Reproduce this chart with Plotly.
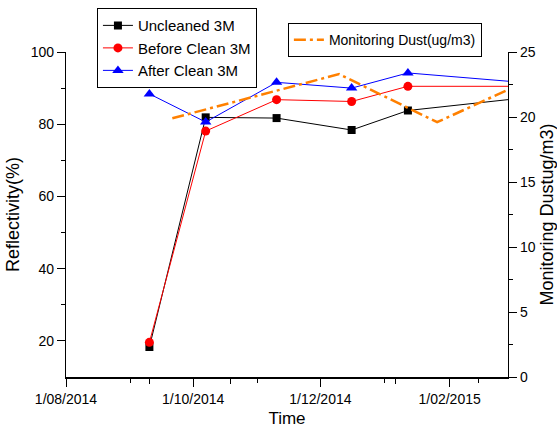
import plotly.graph_objects as go

# ---- data ----
dates_3m = ['2014-09-10', '2014-10-07', '2014-11-10', '2014-12-16', '2015-01-12', '2015-03-20']
uncleaned_3m = [18.3, 81.9, 81.7, 78.4, 83.8, 88.0]
before_clean_3m = [19.6, 78.1, 86.8, 86.3, 90.5, 90.5]
after_clean_3m = [88.4, 80.6, 91.6, 90.0, 94.2, 91.0]

dust_dates = ['2014-09-21', '2014-12-10', '2015-01-26', '2015-03-01']
dust_values = [19.9, 23.3, 19.6, 22.1]

x_tick_vals = ['2014-08-01', '2014-10-01', '2014-12-01', '2015-02-01']
x_tick_text = ['1/08/2014', '1/10/2014', '1/12/2014', '1/02/2015']
x_minor_vals = ['2014-09-01', '2014-11-01', '2015-01-01', '2015-02-15']
x2_tick_vals = ['2014-09-10', '2014-10-19', '2015-01-06']
x_range = ['2014-08-01', '2015-03-01']

y_left_ticks = [20, 40, 60, 80, 100]
y_left_minor = [30, 50, 70, 90]
y_right_ticks = [0, 5, 10, 15, 20, 25]
y_right_minor = [2.5, 7.5, 12.5, 17.5, 22.5]

FONT = 'Liberation Sans, Arial, sans-serif'

fig = go.Figure()
fig.add_trace(go.Scatter(x=dates_3m, y=uncleaned_3m, name='Uncleaned 3M', mode='lines+markers',
                         line=dict(color='#000000', width=1),
                         marker=dict(symbol='square', size=8, color='#000000'), legend='legend'))
fig.add_trace(go.Scatter(x=dates_3m, y=before_clean_3m, name='Before Clean 3M', mode='lines+markers',
                         line=dict(color='#FF0000', width=1),
                         marker=dict(symbol='circle', size=9, color='#FF0000'), legend='legend'))
fig.add_trace(go.Scatter(x=dates_3m, y=after_clean_3m, name='After Clean 3M', mode='lines+markers',
                         line=dict(color='#0000FF', width=1),
                         marker=dict(symbol='triangle-up', size=10, color='#0000FF'), legend='legend'))
fig.add_trace(go.Scatter(x=dust_dates, y=dust_values, name='Monitoring Dust(ug/m3)', mode='lines',
                         line=dict(color='#FF8000', width=2.5, dash='12px,4px,3px,4px'),
                         xaxis='x2', yaxis='y2', legend='legend2'))

axis_common = dict(showgrid=False, zeroline=False, linecolor='black', tickcolor='black', automargin=False,
                   tickfont=dict(family=FONT, size=14, color='black'))

fig.update_layout(
    width=557, height=428,
    margin=dict(l=66, r=49, t=52, b=51, autoexpand=False),
    paper_bgcolor='white', plot_bgcolor='white',
    font=dict(family=FONT, color='black'),
    showlegend=True,
    xaxis=dict(type='date', range=x_range, tickmode='array', tickvals=x_tick_vals, ticktext=x_tick_text,
               ticks='outside', ticklen=8, tickwidth=1, showline=True, linewidth=2,
               minor=dict(tickmode='array', tickvals=x_minor_vals, ticks='outside', ticklen=4,
                          tickcolor='black', tickwidth=1, showgrid=False),
               title=dict(text='Time', font=dict(family=FONT, size=17, color='black'), standoff=8),
               **axis_common),
    xaxis2=dict(type='date', range=x_range, overlaying='x', anchor='y2', side='bottom',
                tickmode='array', tickvals=x2_tick_vals, showticklabels=False, automargin=False,
                ticks='outside', ticklen=6, tickwidth=1, showline=False, showgrid=False,
                zeroline=False, tickcolor='black'),
    yaxis=dict(range=[10, 100], tickmode='array', tickvals=y_left_ticks, ticks='outside', ticklen=8,
               tickwidth=1, showline=True, linewidth=1.3,
               minor=dict(tickmode='array', tickvals=y_left_minor, ticks='outside', ticklen=4,
                          tickcolor='black', tickwidth=1, showgrid=False),
               title=dict(text='Reflectivity(%)', font=dict(family=FONT, size=18, color='black'), standoff=6),
               **axis_common),
    yaxis2=dict(range=[0, 25], overlaying='y', side='right', anchor='x', tickmode='array',
                tickvals=y_right_ticks, ticks='outside', ticklen=8, tickwidth=1, showline=True, linewidth=1.3,
                minor=dict(tickmode='array', tickvals=y_right_minor, ticks='outside', ticklen=4,
                           tickcolor='black', tickwidth=1, showgrid=False),
                title=dict(text='Monitoring Dustug/m3)', font=dict(family=FONT, size=18, color='black'), standoff=7),
                **axis_common),
    legend=dict(x=0.070, y=1.135, xanchor='left', yanchor='top', bgcolor='white',
                bordercolor='black', borderwidth=1, font=dict(family=FONT, size=15, color='black'),
                tracegroupgap=0, itemwidth=30),
    legend2=dict(x=0.502, y=1.089, xanchor='left', yanchor='top', bgcolor='white',
                 bordercolor='black', borderwidth=1, font=dict(family=FONT, size=14, color='black'),
                 itemwidth=30),
)

fig.write_html('out.html')
